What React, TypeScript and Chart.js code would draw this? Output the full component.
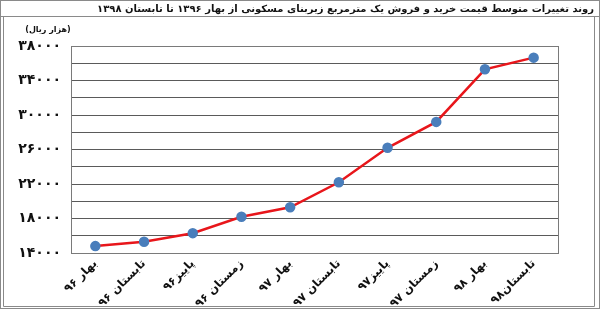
import React, { useEffect, useRef } from "react";
import { Chart, registerables } from "chart.js";

Chart.register(...registerables);

const titleText = "روند تغییرات متوسط قیمت خرید و فروش یک مترمربع زیربنای مسکونی از بهار ۱۳۹۶ تا تابستان ۱۳۹۸";
const unitText = "(هزار ریال)";
const categories = ["بهار ۹۶", "تابستان ۹۶", "پاییز۹۶", "زمستان ۹۶", "بهار ۹۷", "تابستان ۹۷", "پاییز۹۷", "زمستان ۹۷", "بهار ۹۸", "تابستان۹۸"];
const prices = [14800, 15300, 16300, 18200, 19300, 22200, 26200, 29200, 35300, 36650];
const yMin = 14000;
const yMax = 38000;
const gridStep = 2000;
const labelStep = 4000;

const faDigits = "۰۱۲۳۴۵۶۷۸۹";
const toFa = (n: number) => String(n).replace(/\d/g, (d) => faDigits[+d]);

const framePlugin = {
  id: "frame",
  afterDraw(chart: any) {
    const ctx = chart.ctx as CanvasRenderingContext2D;
    const { left, right, top, bottom } = chart.chartArea;
    ctx.save();
    ctx.strokeStyle = "#8a8a8a";
    ctx.lineWidth = 1;
    ctx.strokeRect(0.5, 0.5, 599, 308);
    ctx.beginPath();
    ctx.moveTo(0, 16.5);
    ctx.lineTo(600, 16.5);
    ctx.stroke();
    ctx.beginPath();
    ctx.moveTo(3.5, 16.5);
    ctx.lineTo(3.5, 306.5);
    ctx.lineTo(594.5, 306.5);
    ctx.lineTo(594.5, 16.5);
    ctx.stroke();
    ctx.strokeStyle = "#7a7a7a";
    ctx.strokeRect(Math.round(left) + 0.5, Math.round(top) + 0.5, Math.round(right - left), Math.round(bottom - top));
    ctx.fillStyle = "#111";
    ctx.font = "bold 10px 'DejaVu Sans'";
    ctx.direction = "rtl";
    ctx.textAlign = "right";
    ctx.textBaseline = "middle";
    ctx.fillText(titleText, 594, 9);
    ctx.font = "bold 8px 'DejaVu Sans'";
    ctx.textAlign = "center";
    ctx.fillText(unitText, 48, 30);
    ctx.restore();
  },
};

export default function App() {
  const ref = useRef<HTMLCanvasElement>(null);
  useEffect(() => {
    document.body.style.margin = "0";
    const chart = new Chart(ref.current!, {
      type: "line",
      data: {
        labels: categories,
        datasets: [
          {
            data: prices,
            borderColor: "#e8161b",
            borderWidth: 2.5,
            pointBackgroundColor: "#4a7ebb",
            pointBorderColor: "#4a7ebb",
            pointRadius: 4,
            tension: 0,
          },
        ],
      },
      options: {
        animation: false,
        responsive: true,
        maintainAspectRatio: false,
        layout: { padding: { left: 0, right: 42, top: 46, bottom: 0 } },
        plugins: { legend: { display: false }, tooltip: { enabled: false } },
        scales: {
          x: {
            offset: true,
            grid: { display: false, drawTicks: false },
            border: { display: false },
            ticks: {
              autoSkip: false,
              maxRotation: 45,
              minRotation: 45,
              padding: 4,
              color: "#111",
              font: { family: "'DejaVu Sans'", weight: "bold", size: 11.5 },
            },
            afterFit(scale: any) {
              scale.height = 56;
            },
          },
          y: {
            min: yMin,
            max: yMax,
            grid: { color: "#5a5a5a", lineWidth: 1, drawTicks: false },
            border: { display: false },
            ticks: {
              autoSkip: false,
              stepSize: gridStep,
              padding: 10,
              color: "#111",
              font: { family: "'DejaVu Sans'", weight: "bold", size: 14 },
              callback: (v: any) => ((v - yMin) % labelStep === 0 ? toFa(v) : ""),
            },
            afterFit(scale: any) {
              scale.width = 71;
            },
          },
        },
      },
      plugins: [framePlugin],
    });
    return () => chart.destroy();
  }, []);
  return (
    <div style={{ width: 600, height: 309, position: "relative" }}>
      <canvas ref={ref} />
    </div>
  );
}
